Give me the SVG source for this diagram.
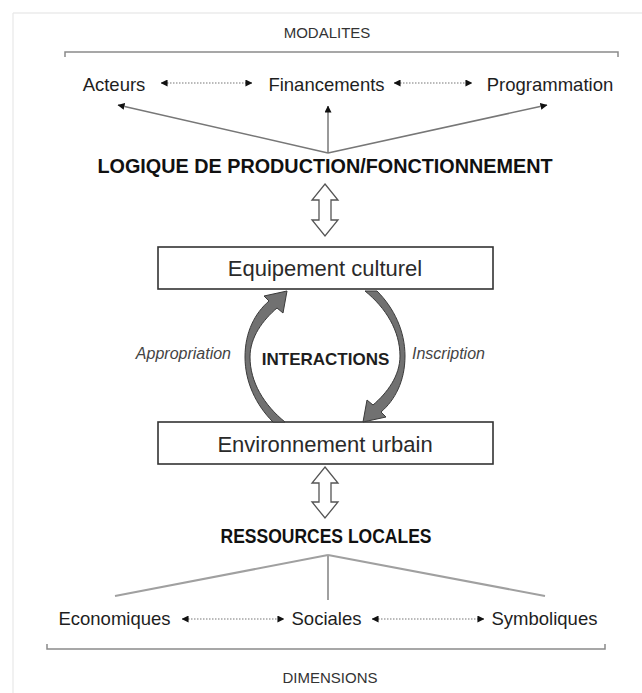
<svg xmlns="http://www.w3.org/2000/svg" width="642" height="693" viewBox="0 0 642 693">
<defs>
<style>
text{font-family:"Liberation Sans",Arial,sans-serif;fill:#1e1e1e}
.lbl{font-size:18.5px;text-anchor:middle}
.cap{font-size:15px;text-anchor:middle;fill:#333}
.head{font-size:21px;font-weight:bold;text-anchor:middle;fill:#111}
.box{fill:#fff;stroke:#333;stroke-width:1.6}
.boxt{font-size:22px;text-anchor:middle;fill:#2a2a2a}
.it{font-size:16px;font-style:italic;fill:#444}
.dot{stroke:#777;stroke-width:1.2;stroke-dasharray:1.5 1.5;fill:none;marker-start:url(#ah);marker-end:url(#ah)}
.fan{stroke:#777;stroke-width:1.5;fill:none;marker-end:url(#ah)}
.fan2{stroke:#a0a0a0;stroke-width:2;fill:none}
.brk{stroke:#8a8a8a;stroke-width:1.5;fill:none}
.dbl{fill:#fff;stroke:#555;stroke-width:1.3;stroke-linejoin:miter}
.circ{fill:#717171;stroke:#3a3a3a;stroke-width:1}
</style>
<marker id="ah" viewBox="0 0 8 8" refX="7.5" refY="4" markerWidth="7" markerHeight="7" markerUnits="userSpaceOnUse" orient="auto-start-reverse">
<path d="M0,0 L8,4 L0,8 Z" fill="#111"/>
</marker>
</defs>

<g id="frame">
<line x1="13" y1="13" x2="642" y2="13" stroke="#e2e2e2" stroke-width="1.2"/>
<line x1="13" y1="13" x2="13" y2="693" stroke="#e8e8e8" stroke-width="1.2"/>
</g>

<g id="modalites">
<text class="cap" x="327" y="38">MODALITES</text>
<path class="brk" d="M65,57 L65,52 L618,52 L618,57"/>
</g>
<g id="acteurs"><text class="lbl" x="114" y="91">Acteurs</text></g>
<g id="financements"><text class="lbl" x="326.5" y="91">Financements</text></g>
<g id="programmation"><text class="lbl" x="550" y="91">Programmation</text></g>

<g id="logique"><text class="head" x="325" y="173" textLength="455" lengthAdjust="spacingAndGlyphs">LOGIQUE DE PRODUCTION/FONCTIONNEMENT</text></g>

<g id="equipement">
<rect class="box" x="158" y="247" width="335" height="42"/>
<text class="boxt" x="325" y="276">Equipement culturel</text>
</g>

<g id="interactions"><text x="325.5" y="365" font-size="17" font-weight="bold" text-anchor="middle" fill="#1a1a1a">INTERACTIONS</text></g>

<g id="environnement">
<rect class="box" x="158" y="422" width="335" height="42"/>
<text class="boxt" x="325" y="452">Environnement urbain</text>
</g>

<g id="ressources"><text class="head" x="326" y="543" textLength="211" lengthAdjust="spacingAndGlyphs">RESSOURCES LOCALES</text></g>

<g id="economiques"><text class="lbl" x="114.5" y="625">Economiques</text></g>
<g id="sociales"><text class="lbl" x="326.5" y="625">Sociales</text></g>
<g id="symboliques"><text class="lbl" x="544.5" y="625">Symboliques</text></g>

<g id="dimensions">
<path class="brk" d="M47,644 L47,649 L605,649 L605,644"/>
<text class="cap" x="330" y="683">DIMENSIONS</text>
</g>

<g id="connectors">
<line class="dot" x1="161" y1="83" x2="252" y2="83"/>
<line class="dot" x1="394" y1="83" x2="472" y2="83"/>
<line class="fan" x1="328" y1="153" x2="118" y2="105"/>
<line class="fan" x1="328" y1="153" x2="328" y2="106"/>
<line class="fan" x1="328" y1="153" x2="547" y2="105"/>
<path class="dbl" d="M325,184 L338,200 L331,200 L331,220 L338,220 L325,236 L312,220 L319,220 L319,200 L312,200 Z"/>
<path id="appro-arrow" class="circ" d="M273,422 C256,405 245,382 245,357 C245,332 255,313 269,301 L264,296 L287,291 L283,313 L277,308 C263,320 250,337 250,357 C250,382 264,405 285,422 Z"/>
<path id="inscr-arrow" class="circ" transform="rotate(180 325 356.5)" d="M273,422 C256,405 245,382 245,357 C245,332 255,313 269,301 L264,296 L287,291 L283,313 L277,308 C263,320 250,337 250,357 C250,382 264,405 285,422 Z"/>
<text class="it" x="231" y="359" text-anchor="end">Appropriation</text>
<text class="it" x="412" y="359">Inscription</text>
<path class="dbl" d="M325,467 L338,483 L331,483 L331,502 L338,502 L325,518 L312,502 L319,502 L319,483 L312,483 Z"/>
<line class="fan2" x1="328" y1="555" x2="115" y2="596"/>
<line class="fan2" x1="328" y1="555" x2="328" y2="600"/>
<line class="fan2" x1="328" y1="555" x2="545" y2="596"/>
<line class="dot" x1="182" y1="619" x2="284" y2="619"/>
<line class="dot" x1="372" y1="619" x2="484" y2="619"/>
</g>
</svg>
